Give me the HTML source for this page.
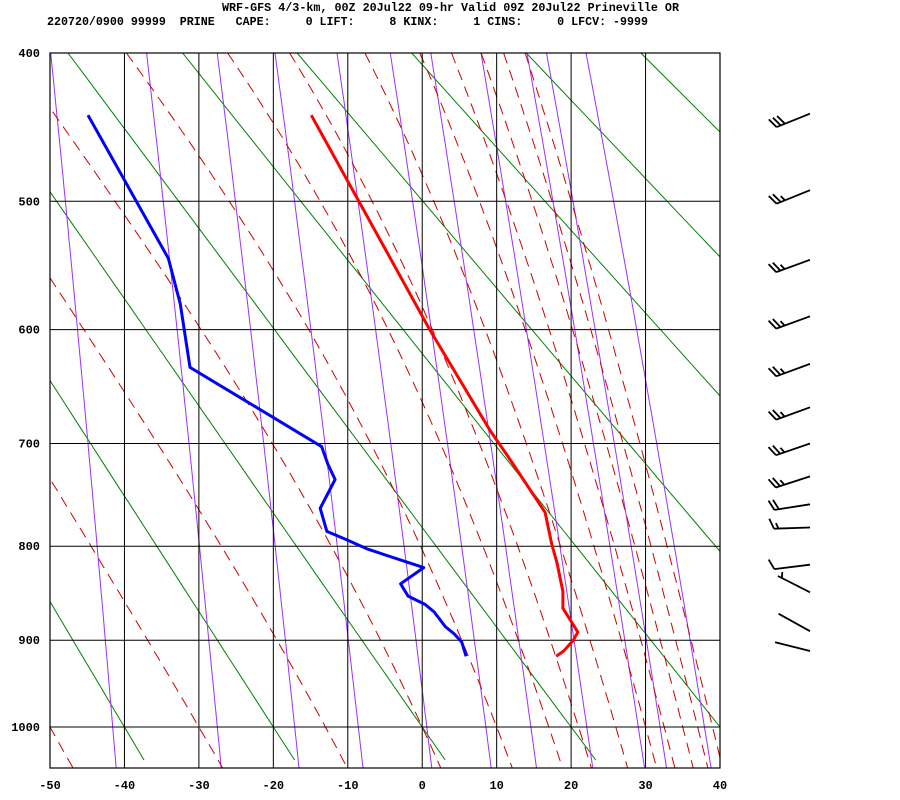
<!DOCTYPE html>
<html><head><meta charset="utf-8"><style>
html,body{margin:0;padding:0;background:#fff;}
svg{display:block;}
text{font-family:"Liberation Mono",monospace;font-weight:bold;fill:#000;}
</style></head>
<body>
<svg id="chart" width="900" height="800" viewBox="0 0 900 800" xmlns="http://www.w3.org/2000/svg">
<rect x="0" y="0" width="900" height="800" fill="#fff"/>
<text x="222" y="11" font-size="11.5" textLength="457" lengthAdjust="spacingAndGlyphs">WRF-GFS 4/3-km, 00Z 20Jul22 09-hr Valid 09Z 20Jul22 Prineville OR</text>
<text x="47" y="25" font-size="11.5" textLength="601" lengthAdjust="spacingAndGlyphs" xml:space="preserve">220720/0900 99999  PRINE   CAPE:     0 LIFT:     8 KINX:     1 CINS:     0 LFCV: -9999</text>
<defs><clipPath id="plotclip"><rect x="50" y="53" width="670" height="715"/></clipPath></defs>
<g id="bg" clip-path="url(#plotclip)"></g>
<g id="grid"></g>
<g id="profiles" clip-path="url(#plotclip)"></g>
<g id="axes"></g>
<g id="barbs"></g>
</svg>
<script>
// ---- data ----
const tempPressures = [440, 600, 688, 715, 744, 766, 798, 817, 847, 865, 891, 900, 912, 918];
const tempValues    = [-14.9, 1.0, 9.1, 11.8, 14.5, 16.5, 17.4, 18.1, 18.9, 18.9, 20.9, 20.3, 19.0, 18.0];
const dewPressures  = [440, 543, 579, 632, 703, 719, 734, 762, 785, 794, 803, 822, 839, 852, 861, 869, 885, 893, 902, 918];
const dewValues     = [-44.9, -34.1, -32.5, -31.2, -13.5, -12.7, -11.7, -13.7, -12.8, -10.0, -7.3, 0.2, -2.9, -1.9, 0.4, 1.6, 3.1, 4.3, 5.3, 5.9];
const windPressures = [439, 492, 544, 589, 629, 667, 700, 731, 758, 781, 819, 848, 890, 912];
const windDirs      = [248, 248, 250, 250, 250, 250, 251, 252, 261, 268, 263, 297, 299, 284];
const windSpeeds    = [30, 25, 25, 25, 25, 25, 25, 25, 20, 15, 10, 5, 2, 2];
const pressureTicks = [400, 500, 600, 700, 800, 900, 1000];
const tempTicks     = [-50, -40, -30, -20, -10, 0, 10, 20, 30, 40];
const dryAdiabatThetas = [233.15, 253.15, 273.15, 293.15, 313.15, 333.15, 353.15, 373.15, 393.15, 413.15, 433.15, 453.15];
const mixingRatios  = [0.1, 0.4, 1, 2, 4, 7, 10.5, 17, 26, 31, 44];
const moistStartTemps = [-50, -30, -13, 0, 10, 17, 21, 26, 30, 32.5, 35, 37, 39];

// ---- axis functions ----
const K = 0.286;
const X0 = 50, X1 = 720, Y0 = 53, Y1 = 768;
const PTOP = 400;
const YSCALE = 674 / (Math.pow(1000, K) - Math.pow(PTOP, K));
function xT(t){ return X0 + (t + 50) * (X1 - X0) / 90; }
function yP(p){ return Y0 + YSCALE * (Math.pow(p, K) - Math.pow(PTOP, K)); }
const PBOT = Math.pow(Math.pow(PTOP, K) + (Y1 - Y0) / YSCALE, 1 / K);

const NS = "http://www.w3.org/2000/svg";
function mk(tag, attrs, parent){
  const e = document.createElementNS(NS, tag);
  for (const k in attrs) e.setAttribute(k, attrs[k]);
  parent.appendChild(e);
  return e;
}
const bg = document.getElementById('bg');
const grid = document.getElementById('grid');
const prof = document.getElementById('profiles');
const axes = document.getElementById('axes');
const barbs = document.getElementById('barbs');

function pathFrom(pts){ return pts.map((q,i)=>(i?'L':'M')+q[0].toFixed(1)+' '+q[1].toFixed(1)).join(' '); }

// dry adiabats (green)
dryAdiabatThetas.forEach(th => {
  const pts = [];
  for (let p = PTOP; p <= PBOT + 1; p += 20) pts.push([xT(th * Math.pow(p/1000, K) - 273.15), yP(p)]);
  const el = mk('path', {d: pathFrom(pts), stroke: '#008000', 'stroke-width': 1, fill: 'none'}, bg);
  
  
});

// saturation mixing ratio lines (purple)
function tFromW(w, p){
  const e = w * p / (622 + w);
  const a = Math.log(e / 6.112);
  return 243.5 * a / (17.67 - a);
}
mixingRatios.forEach(w => {
  const pts = [];
  for (let p = PTOP; p <= PBOT + 1; p += 10) pts.push([xT(tFromW(w, p)), yP(p)]);
  const el = mk('path', {d: pathFrom(pts), stroke: '#9b30ff', 'stroke-width': 1, fill: 'none'}, bg);
  
  
});

// moist adiabats (red dashed)
function esat(tc){ return 6.112 * Math.exp(17.67 * tc / (tc + 243.5)); }
function dTdp(p, T){
  const Rd = 287.04, cp = 1005.7, L = 2.501e6, eps = 0.622;
  const tc = T - 273.15;
  const es = esat(tc);
  const rs = eps * es / (p - es);
  return (1/p) * (Rd*T + L*rs) / (cp + L*L*rs*eps/(Rd*T*T));
}
function integrate(T0, p0, p1, step){
  const pts = [[p0, T0]];
  let T = T0, p = p0;
  const dir = p1 < p0 ? -1 : 1;
  while ((p1 - p) * dir > 0){
    const h = dir * Math.min(step, Math.abs(p1 - p));
    const k1 = dTdp(p, T);
    const k2 = dTdp(p + h/2, T + h/2 * k1);
    T += h * k2; p += h;
    pts.push([p, T]);
  }
  return pts;
}
moistStartTemps.forEach(t0 => {
  const up = integrate(t0 + 273.15, 1000, PTOP, 5).reverse();
  const down = integrate(t0 + 273.15, 1000, PBOT + 2, 5).slice(1);
  const all = up.concat(down).map(q => [xT(q[1] - 273.15), yP(q[0])]);
  const el = mk('path', {d: pathFrom(all), stroke: '#cc0000', 'stroke-width': 1, fill: 'none', 'stroke-dasharray': '11 7'}, bg);
  
  
});

// grid
pressureTicks.forEach(p => {
  const y = yP(p);
  const el = mk('line', {x1: X0, x2: X1, y1: y, y2: y, stroke: '#000', 'stroke-width': 1}, grid);
  
  
  const t = mk('text', {x: 40, y: y + 4, 'font-size': 12, 'text-anchor': 'end'}, axes);
  t.textContent = p;
  
  
});
tempTicks.forEach(tv => {
  const x = xT(tv);
  if (tv > -50 && tv < 40){
    const el = mk('line', {x1: x, x2: x, y1: Y0, y2: Y1, stroke: '#000', 'stroke-width': 1}, grid);
    
    
  }
  const t = mk('text', {x: x, y: 789, 'font-size': 12, 'text-anchor': 'middle'}, axes);
  t.textContent = tv;
  
  
});
const frame = mk('rect', {x: X0, y: Y0, width: X1 - X0, height: Y1 - Y0, fill: 'none', stroke: '#000', 'stroke-width': 1.2}, grid);



// profiles
const tLine = mk('path', {d: pathFrom(tempPressures.map((p,i)=>[xT(tempValues[i]), yP(p)])), stroke: '#ff0000', 'stroke-width': 3, fill: 'none', 'stroke-linejoin': 'round'}, prof);


const dLine = mk('path', {d: pathFrom(dewPressures.map((p,i)=>[xT(dewValues[i]), yP(p)])), stroke: '#0000ff', 'stroke-width': 3, fill: 'none', 'stroke-linejoin': 'round'}, prof);



// wind barbs
const SX = 810, STAFF = 36;
windPressures.forEach((p, i) => {
  const y = yP(p);
  const a = windDirs[i] * Math.PI / 180;
  const ux = Math.sin(a), uy = -Math.cos(a);
  const ex = SX + ux * STAFF, ey = y + uy * STAFF;
  const g = mk('g', {}, barbs);
  
  
  let d = 'M' + SX + ' ' + y.toFixed(1) + ' L' + ex.toFixed(1) + ' ' + ey.toFixed(1);
  let spd = windSpeeds[i];
  // perpendicular pointing upward on screen
  let px = -uy, py = ux;
  if (py > 0){ px = -px; py = -py; }
  const bx = 0.4*ux + 0.92*px, by = 0.4*uy + 0.92*py;
  let pos = 0;
  while (spd >= 10){
    const sx = ex - ux*pos, sy = ey - uy*pos;
    d += ' M' + sx.toFixed(1) + ' ' + sy.toFixed(1) + ' L' + (sx + bx*11).toFixed(1) + ' ' + (sy + by*11).toFixed(1);
    spd -= 10; pos += 4.5;
  }
  if (spd >= 5){
    if (pos === 0) pos = 4.5;
    const sx = ex - ux*pos, sy = ey - uy*pos;
    d += ' M' + sx.toFixed(1) + ' ' + sy.toFixed(1) + ' L' + (sx + bx*6).toFixed(1) + ' ' + (sy + by*6).toFixed(1);
  }
  mk('path', {d: d, stroke: '#000', 'stroke-width': 1.8, fill: 'none'}, g);
});
</script>
</body></html>
